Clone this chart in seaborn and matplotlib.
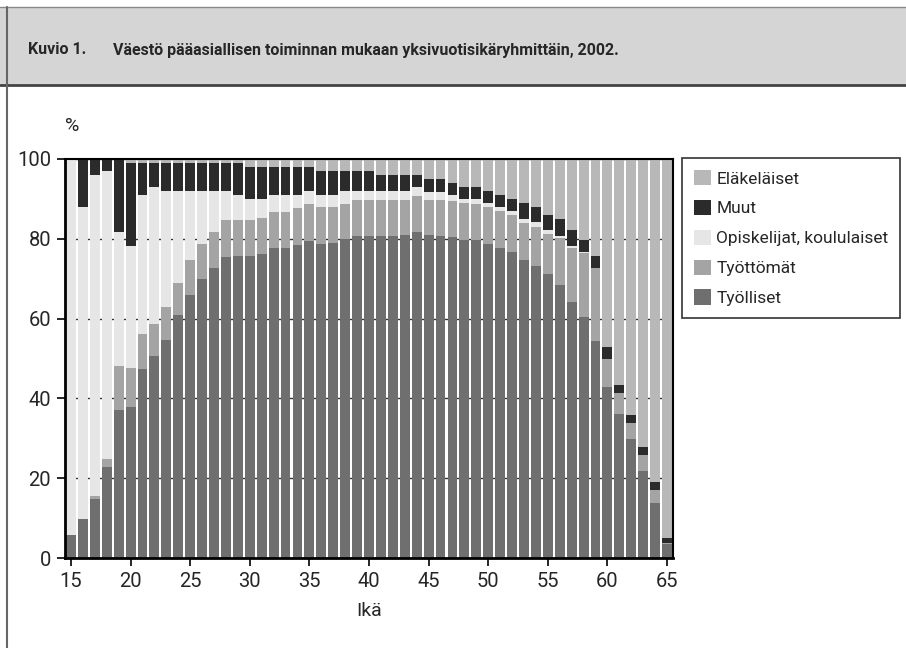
import numpy as np
import pandas as pd
import matplotlib
matplotlib.use("Agg")
import matplotlib.pyplot as plt
from matplotlib.patches import Rectangle
from matplotlib.lines import Line2D
import seaborn as sns

# Ikä 15..65, osuudet (%) pääasiallisen toiminnan mukaan
ages = list(range(15, 66))

tyolliset = [5.7, 9.7, 14.7, 22.9, 37.1, 37.9, 47.3, 50.7, 54.6, 60.8,
             65.8, 69.8, 72.8, 75.5, 75.8, 75.8, 76.2, 77.8, 77.8, 78.4,
             79.5, 78.7, 79.0, 79.9, 80.7, 80.7, 80.7, 80.8, 80.9, 81.8,
             80.9, 80.8, 80.5, 79.8, 79.7, 78.6, 77.8, 76.8, 74.7, 73.2,
             71.1, 68.4, 64.1, 60.5, 54.5, 42.8, 36.1, 29.8, 21.8, 13.9, 3.5]
tyottomat = [0.0, 0.0, 0.9, 2.0, 11.0, 9.8, 8.8, 8.0, 8.2, 8.1,
             8.9, 8.9, 9.0, 9.2, 8.9, 8.9, 8.9, 9.0, 9.0, 9.2,
             9.2, 9.3, 9.0, 8.8, 9.0, 9.0, 9.0, 8.9, 8.8, 8.9,
             8.8, 8.9, 9.0, 9.2, 9.1, 9.4, 9.2, 9.2, 9.3, 9.8,
             10.2, 11.8, 13.5, 16.0, 18.2, 7.1, 5.2, 4.0, 4.1, 3.1, 0.2]
opiskelijat = [94.3, 78.2, 80.4, 72.1, 33.7, 30.6, 34.9, 34.3, 29.2, 23.1,
               17.3, 13.3, 10.2, 7.3, 6.3, 5.3, 5.0, 4.2, 4.2, 3.4,
               3.2, 3.0, 3.0, 3.2, 2.2, 2.2, 2.2, 2.2, 2.2, 2.3,
               2.1, 2.1, 1.5, 1.0, 1.2, 0.9, 1.0, 1.0, 1.0, 1.2,
               0.9, 0.6, 0.5, 0.3, 0.0, 0.0, 0.0, 0.0, 0.0, 0.0, 0.0]
muut = [0.0, 12.1, 4.0, 3.0, 18.2, 20.6, 7.9, 5.9, 6.9, 6.9,
        6.9, 6.9, 6.9, 6.9, 7.9, 7.9, 7.8, 6.9, 6.9, 6.9,
        6.0, 5.9, 5.9, 5.0, 5.0, 5.0, 4.1, 4.1, 4.1, 3.0,
        3.2, 3.2, 2.9, 2.9, 2.9, 3.0, 3.0, 2.9, 3.9, 3.8,
        3.7, 4.1, 4.0, 2.9, 3.0, 3.1, 2.0, 2.0, 2.0, 2.1, 1.2]
elakelaiset = [0.0, 0.0, 0.0, 0.0, 0.0, 1.1, 1.1, 1.1, 1.1, 1.1,
               1.1, 1.1, 1.1, 1.1, 1.1, 2.1, 2.1, 2.1, 2.1, 2.1,
               2.1, 3.1, 3.1, 3.1, 3.1, 3.1, 4.0, 4.0, 4.0, 4.0,
               5.0, 5.0, 6.1, 7.1, 7.1, 8.1, 9.0, 10.1, 11.1, 12.0,
               14.1, 15.1, 17.9, 20.3, 24.3, 47.0, 56.7, 64.2, 72.1, 80.9, 95.1]

# pinoamisjärjestys alhaalta ylös
layers = [
    ("Työlliset", tyolliset, "#6f6f6f"),
    ("Työttömät", tyottomat, "#a4a4a4"),
    ("Opiskelijat, koululaiset", opiskelijat, "#e6e6e6"),
    ("Muut", muut, "#2b2b2b"),
    ("Eläkeläiset", elakelaiset, "#b8b8b8"),
]

df = pd.DataFrame({"Ikä": ages})
running = np.zeros(len(ages))
for name, vals, _ in layers:
    running = running + np.array(vals)
    df[name] = running

sns.set_theme(style="white")
plt.rcParams["font.family"] = ["Roboto", "DejaVu Sans"]

fig = plt.figure(figsize=(9.06, 6.48), dpi=100)
ax = fig.add_axes([65 / 906, 1 - 558 / 648, 608 / 906, 399 / 648])

# isoin kumulatiivinen ensin, pienemmät päälle
for name, _, color in reversed(layers):
    sns.barplot(data=df, x="Ikä", y=name, color=color, saturation=1,
                width=0.83, linewidth=0, label=name, ax=ax, zorder=2)

ax.set_ylim(0, 100)
ax.set_xlim(-0.5, len(ages) - 0.5)
ax.set_yticks([0, 20, 40, 60, 80, 100])
ax.set_xticks([a - 15 for a in range(15, 66, 5)])
ax.set_xticklabels([str(a) for a in range(15, 66, 5)])
# ruudukko jää pylväiden taakse ja näkyy vain väleissä
ax.yaxis.grid(True, linestyle="-", color="#333333", linewidth=1.0, zorder=0)
ax.set_axisbelow(True)
ax.tick_params(axis="both", direction="out", length=6, width=1.2, color="black",
               labelsize=14.5, bottom=True, left=True, pad=4)
for side, lw in [("left", 2.0), ("bottom", 2.0), ("top", 1.5), ("right", 1.5)]:
    ax.spines[side].set_color("black")
    ax.spines[side].set_linewidth(lw)
ax.set_xlabel("Ikä", fontsize=14, labelpad=8)
ax.set_ylabel("")

fig.text(65 / 906, 1 - 126 / 648, "%", fontsize=14, ha="left", va="center")

handles, labels = ax.get_legend_handles_labels()
ax.legend_ = None
leg = fig.legend(handles, labels, loc="upper left", bbox_to_anchor=(682 / 906, 1 - 158 / 648),
                 fontsize=12.5, frameon=True, fancybox=False, edgecolor="black",
                 handlelength=1.0, handleheight=1.0, handletextpad=0.3, labelspacing=0.76,
                 borderpad=0.68, borderaxespad=0)
leg.get_frame().set_linewidth(1.2)

# otsikkokaista
fig.add_artist(Rectangle((0, 1 - 85 / 648), 1, 78 / 648, transform=fig.transFigure,
                         facecolor="#d5d5d5", edgecolor="none", zorder=0))
fig.add_artist(Line2D([0, 1], [1 - 7 / 648] * 2, transform=fig.transFigure, color="#888888", lw=1))
fig.add_artist(Line2D([0, 1], [1 - 85 / 648] * 2, transform=fig.transFigure, color="#444444", lw=2))
fig.add_artist(Line2D([7 / 906] * 2, [0, 1 - 7 / 648], transform=fig.transFigure, color="#666666", lw=1.5))
fig.text(28 / 906, 1 - 50 / 648, "Kuvio 1.", fontsize=11.5, fontweight="bold", ha="left", va="center")
fig.text(113 / 906, 1 - 50 / 648, "Väestö pääasiallisen toiminnan mukaan yksivuotisikäryhmittäin, 2002.",
         fontsize=11.5, fontweight="bold", ha="left", va="center")

fig.savefig("out.png", dpi=100)
